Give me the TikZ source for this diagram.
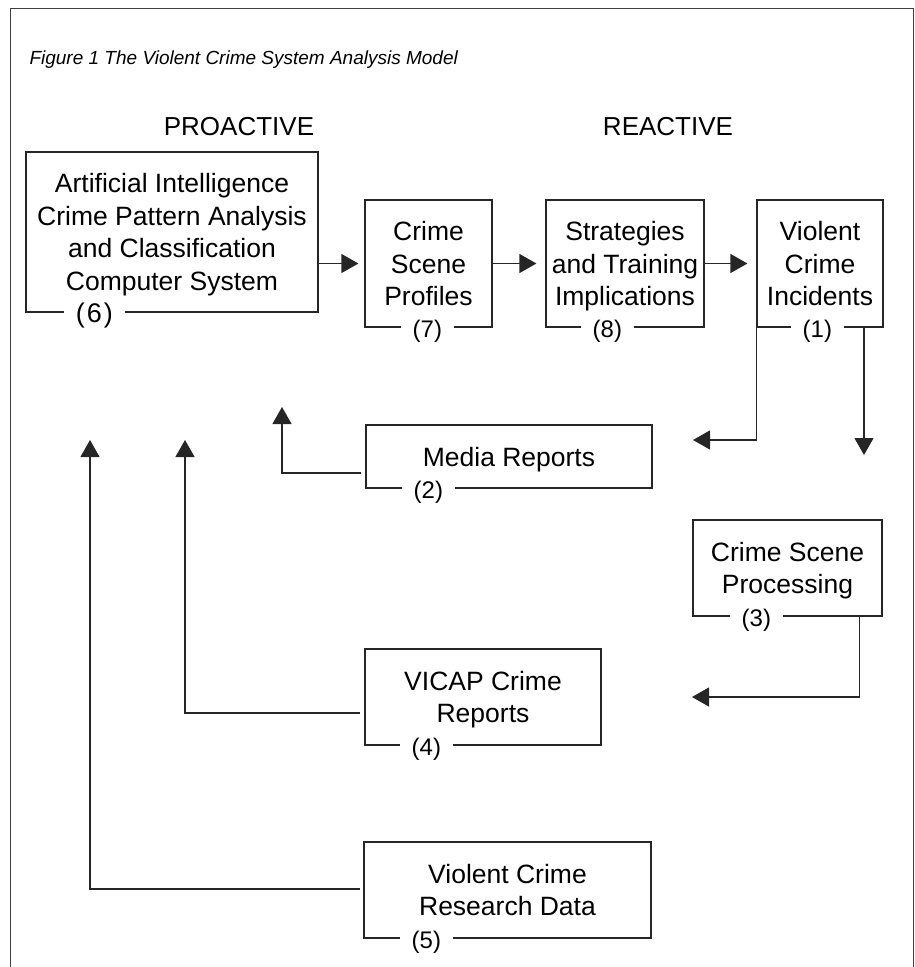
\documentclass[tikz,border=0pt]{standalone}
\usepackage{fontspec}
\setmainfont{Liberation Sans}
\usetikzlibrary{arrows.meta,calc}

\begin{document}
\begin{tikzpicture}[x=1pt,y=-1pt,
  stage/.style={draw=black!85, line width=1.2pt, inner sep=0pt, align=center,
    text depth=0pt, font=\fontsize{26.5}{32.5}\selectfont},
  tag/.style={fill=white, inner xsep=12pt, inner ysep=1pt, anchor=base,
    font=\fontsize{24}{28}\selectfont},
  flow/.style={draw=black!85, line width=1.2pt,
    -{Triangle[length=17pt,width=19pt]}},
  head/.style={anchor=base, font=\fontsize{26}{30}\selectfont},
  frame/.style={draw=black!75, line width=1pt},
]
\useasboundingbox (0,0) rectangle (915,967);

% outer frame, open at the bottom
\draw[frame] (10.5,967) -- (10.5,8) -- (913.5,8) -- (913.5,967);

% caption and column headings
\node[anchor=base west, font=\fontsize{19}{22}\selectfont\itshape] (title) at (26,64)
  {Figure 1 The Violent Crime System Analysis Model};
\node[head] (pro) at (239,135) {PROACTIVE};
\node[head] (re) at (668,135) {REACTIVE};

% stages of the model
\node[stage, minimum width=292pt, minimum height=160pt] (b6) at (172,232)
  {Artificial Intelligence\\Crime Pattern Analysis\\and Classification\\Computer System};
\node[stage, minimum width=127pt, minimum height=127pt] (b7) at (428.5,263.5)
  {Crime\\Scene\\Profiles};
\node[stage, minimum width=158pt, minimum height=127pt] (b8) at (625,263.5)
  {Strategies\\and Training\\Implications};
\node[stage, minimum width=126pt, minimum height=127pt] (b1) at (820,263.5)
  {Violent\\Crime\\Incidents};
\node[stage, minimum width=286pt, minimum height=63pt] (b2) at (509,456.5)
  {Media Reports};
\node[stage, minimum width=189pt, minimum height=96pt] (b3) at (787.5,568)
  {Crime Scene\\Processing};
\node[stage, minimum width=236pt, minimum height=96pt] (b4) at (483,697)
  {VICAP Crime\\Reports};
\node[stage, minimum width=287pt, minimum height=96pt] (b5) at (507.5,890)
  {Violent Crime\\Research Data};

% step numbers sitting in the bottom edges
\node[tag, font=\fontsize{27}{30}\selectfont] (t6) at ($(b6.south west)+(69,10)$) {(\kern2pt6\kern2pt)};
\node[tag] (t7) at ($(b7.south west)+(63,10)$) {(7)};
\node[tag] (t8) at ($(b8.south west)+(62,10)$) {(8)};
\node[tag] (t1) at ($(b1.south west)+(61,10)$) {(1)};
\node[tag] (t2) at ($(b2.south west)+(63,10)$) {(2)};
\node[tag] (t3) at ($(b3.south west)+(64,10)$) {(3)};
\node[tag] (t4) at ($(b4.south west)+(62,10)$) {(4)};
\node[tag] (t5) at ($(b5.south west)+(63,10)$) {(5)};

% free ends of the feedback arrows
\coordinate (toMedia) at (693,440);
\coordinate (toScene) at (864,455);
\coordinate (toVicap) at (692,697);
\coordinate (upMedia) at (282,407);
\coordinate (upVicap) at (185,440);
\coordinate (upData) at (90,440);

% top row
\draw[flow] (b6.east |- b7.west) -- ([xshift=-6pt]b7.west);
\draw[flow] (b7.east) -- ([xshift=-9pt]b8.west);
\draw[flow] (b8.east) -- ([xshift=-9pt]b1.west);

% from the incidents downwards
\draw[flow] (b1.south west) |- (toMedia);
\draw[flow] (toScene |- b1.south) -- (toScene);
\draw[flow] ($(b3.south east)+(-23,0)$) |- (toVicap);

% inputs back to the computer system
\draw[flow] ($(b2.west)+(-4,16.5)$) -| (upMedia);
\draw[flow] ($(b4.west)+(-4,16)$) -| (upVicap);
\draw[flow] ($(b5.west)+(-3,-1)$) -| (upData);
\end{tikzpicture}
\end{document}
